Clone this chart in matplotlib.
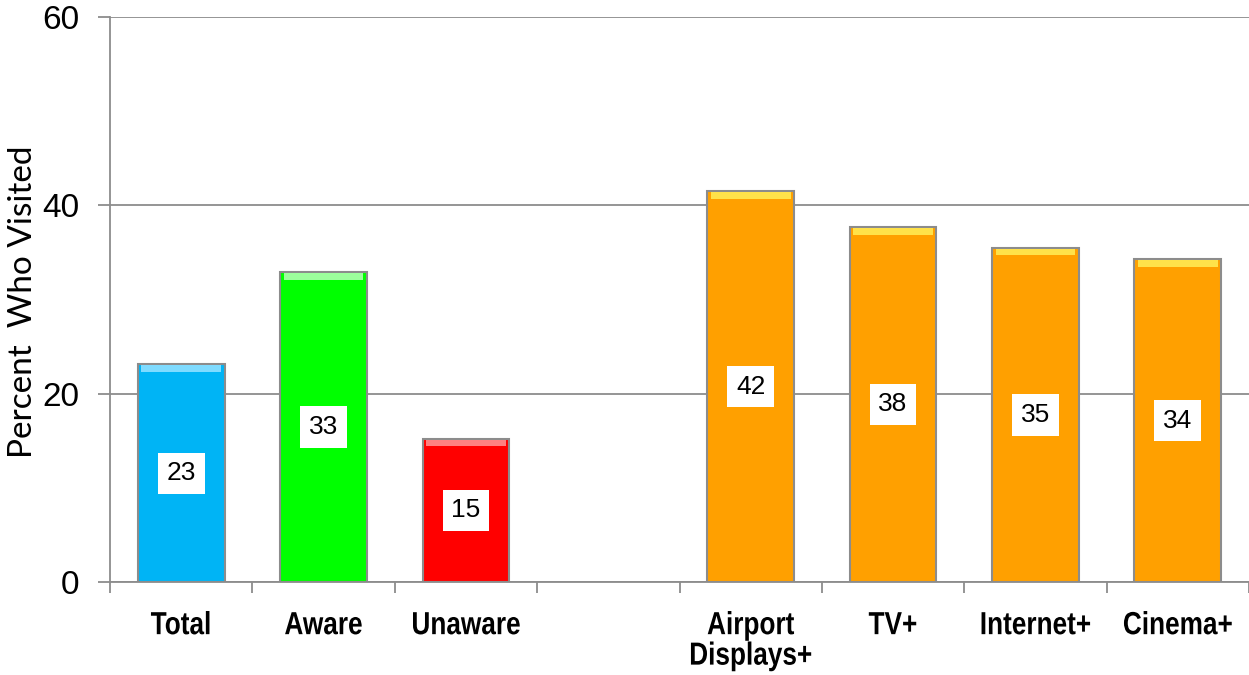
import numpy as np
import matplotlib
matplotlib.use("Agg")
import matplotlib.pyplot as plt
from matplotlib.patheffects import AbstractPathEffect
from matplotlib.transforms import Affine2D

categories = ["Total", "Aware", "Unaware", "", "Airport\nDisplays+", "TV+", "Internet+", "Cinema+"]
values = [23.1, 32.9, 15.2, np.nan, 41.5, 37.7, 35.5, 34.3]
labels = ["23", "33", "15", "", "42", "38", "35", "34"]
colors = ["#00B4F5", "#00FF00", "#FF0000", "white", "#FFA000", "#FFA000", "#FFA000", "#FFA000"]
highlight = ["#7FDBFF", "#9CFF9C", "#FF8080", "white", "#FFE24A", "#FFE24A", "#FFE24A", "#FFE24A"]

plt.rcParams["font.family"] = ["Liberation Sans", "DejaVu Sans"]


class Squeeze(AbstractPathEffect):
    # narrows each text line horizontally (no narrow font installed)
    def __init__(self, sx):
        super().__init__()
        self.sx = sx

    def draw_path(self, renderer, gc, tpath, affine, rgbFace=None):
        ext = tpath.get_extents()
        cx = (ext.x0 + ext.x1) / 2
        t = Affine2D().translate(-cx, 0).scale(self.sx, 1).translate(cx, 0) + affine
        renderer.draw_path(gc, tpath, t, rgbFace)


fig = plt.figure(figsize=(12.49, 6.75), dpi=100)
ax = fig.add_axes([110 / 1249, 93 / 675, 1139 / 1249, 565 / 675])

x = np.arange(len(categories))
vals = np.array(values, dtype=float)
ax.bar(x, vals, width=0.61, color=colors, edgecolor="#8C8C8C", linewidth=1.5, zorder=3)
# lighter band at the top of each bar (bevel look)
ax.bar(x, np.full(len(x), 0.7), bottom=vals - 0.8, width=0.56, color=highlight,
       linewidth=0, zorder=4)

for xi, v, lab in zip(x, vals, labels):
    if np.isnan(v):
        continue
    ax.text(xi, v / 2, lab, ha="center", va="center", fontsize=19, zorder=5,
            bbox=dict(boxstyle="square,pad=0.33", facecolor="white", edgecolor="none"))

ax.set_xlim(-0.5, len(categories) - 0.5)
ax.set_ylim(0, 60)
ax.set_yticks([0, 20, 40, 60])
ax.yaxis.grid(True, color="#8C8C8C", linewidth=1.3, zorder=0)
ax.set_axisbelow(True)

ax.set_xticks(x)
ax.set_xticklabels(categories, fontsize=23, fontweight="bold", linespacing=1.02)
for lbl in ax.get_xticklabels():
    lbl.set_path_effects([Squeeze(0.82)])
ax.set_xticks(np.arange(-0.5, len(categories)), minor=True)
ax.tick_params(axis="x", which="major", length=0, pad=21)
ax.tick_params(axis="x", which="minor", length=8, width=1.3, color="#8C8C8C")
ax.tick_params(axis="y", length=9, width=1.3, color="#8C8C8C", labelsize=24, pad=13)

for s in ["top", "right"]:
    ax.spines[s].set_visible(False)
for s in ["left", "bottom"]:
    ax.spines[s].set_color("#8C8C8C")
    ax.spines[s].set_linewidth(1.3)

fig.text(23 / 1249, 1 - 302 / 675, "Percent  Who Visited", rotation=90,
         ha="center", va="center", fontsize=24, family=["Lato", "DejaVu Sans"])

fig.savefig("out.png", dpi=100)
